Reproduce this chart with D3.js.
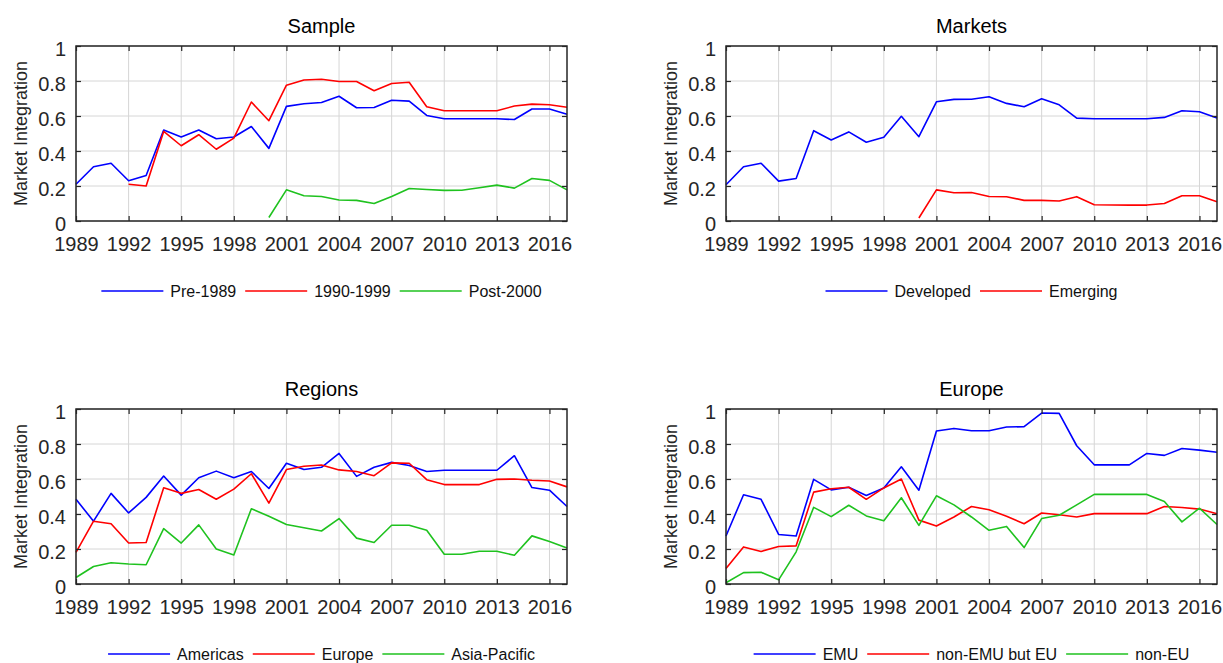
<!DOCTYPE html>
<html>
<head>
<meta charset="utf-8">
<script src="https://cdn.jsdelivr.net/npm/d3@7"></script>
<style>
  body { margin: 0; background: #fff; }
  svg { display: block; font-family: "Liberation Sans", Arial, sans-serif; }
</style>
</head>
<body>
<script>
// years on the x axis
const years = [1989, 1990, 1991, 1992, 1993, 1994, 1995, 1996, 1997, 1998,
               1999, 2000, 2001, 2002, 2003, 2004, 2005, 2006, 2007, 2008,
               2009, 2010, 2011, 2012, 2013, 2014, 2015, 2016, 2017];
const xTicks = [1989, 1992, 1995, 1998, 2001, 2004, 2007, 2010, 2013, 2016];
const yTicks = [0, 0.2, 0.4, 0.6, 0.8, 1];

// Sample
const pre1989 = [0.21, 0.31, 0.33, 0.23, 0.26, 0.52, 0.48, 0.52, 0.47, 0.48,
                 0.54, 0.415, 0.655, 0.67, 0.677, 0.713, 0.647, 0.649, 0.69, 0.685,
                 0.603, 0.584, 0.584, 0.584, 0.584, 0.58, 0.64, 0.64, 0.61];
const y1990to1999 = [null, null, null, 0.21, 0.20, 0.512, 0.43, 0.493, 0.41, 0.474,
                     0.68, 0.573, 0.776, 0.806, 0.81, 0.797, 0.797, 0.744, 0.786, 0.793,
                     0.653, 0.63, 0.63, 0.63, 0.63, 0.657, 0.668, 0.664, 0.65];
const post2000 = [null, null, null, null, null, null, null, null, null, null,
                  null, 0.02, 0.178, 0.144, 0.14, 0.12, 0.118, 0.10, 0.14, 0.186,
                  0.18, 0.175, 0.176, 0.19, 0.205, 0.188, 0.243, 0.232, 0.178];

// Markets
const developed = [0.207, 0.31, 0.33, 0.228, 0.243, 0.516, 0.463, 0.509, 0.45, 0.478,
                   0.598, 0.482, 0.681, 0.695, 0.696, 0.71, 0.672, 0.653, 0.698, 0.664,
                   0.588, 0.584, 0.584, 0.584, 0.584, 0.592, 0.63, 0.624, 0.588];
const emerging = [null, null, null, null, null, null, null, null, null, null,
                  null, 0.017, 0.178, 0.161, 0.163, 0.14, 0.139, 0.118, 0.118, 0.114,
                  0.139, 0.093, 0.091, 0.091, 0.091, 0.10, 0.144, 0.144, 0.11];

// Regions
const americas = [0.484, 0.359, 0.518, 0.406, 0.495, 0.617, 0.508, 0.607, 0.645, 0.607,
                  0.643, 0.546, 0.69, 0.654, 0.667, 0.746, 0.615, 0.667, 0.695, 0.677,
                  0.643, 0.65, 0.65, 0.65, 0.65, 0.733, 0.551, 0.536, 0.443];
const europe = [0.181, 0.359, 0.344, 0.234, 0.237, 0.55, 0.518, 0.54, 0.484, 0.542,
                0.63, 0.462, 0.654, 0.673, 0.68, 0.652, 0.643, 0.619, 0.692, 0.69,
                0.596, 0.568, 0.568, 0.568, 0.598, 0.60, 0.593, 0.589, 0.555];
const asiaPacific = [0.037, 0.10, 0.121, 0.114, 0.11, 0.316, 0.234, 0.338, 0.20, 0.166,
                     0.43, 0.387, 0.34, 0.321, 0.303, 0.374, 0.262, 0.237, 0.336, 0.336,
                     0.307, 0.17, 0.17, 0.187, 0.187, 0.164, 0.275, 0.243, 0.206];

// Europe
const emu = [0.274, 0.51, 0.484, 0.283, 0.274, 0.598, 0.538, 0.553, 0.506, 0.549,
             0.67, 0.536, 0.874, 0.889, 0.876, 0.876, 0.897, 0.899, 0.977, 0.975,
             0.79, 0.681, 0.681, 0.681, 0.746, 0.735, 0.774, 0.765, 0.753];
const nonEmuEu = [0.088, 0.212, 0.186, 0.214, 0.218, 0.525, 0.544, 0.553, 0.484, 0.549,
                  0.60, 0.365, 0.331, 0.383, 0.443, 0.424, 0.387, 0.344, 0.406, 0.396,
                  0.383, 0.402, 0.402, 0.402, 0.402, 0.443, 0.437, 0.428, 0.402];
const nonEu = [0.007, 0.065, 0.067, 0.024, 0.184, 0.438, 0.385, 0.45, 0.389, 0.361,
               0.493, 0.335, 0.504, 0.452, 0.383, 0.307, 0.329, 0.208, 0.374, 0.393,
               0.452, 0.512, 0.512, 0.512, 0.512, 0.471, 0.355, 0.433, 0.34];

const colors = ["#0000ff", "#ff0000", "#1fc21f"];

const panels = [
  { title: "Sample",  left: 76,  top: 46,  names: ["Pre-1989", "1990-1999", "Post-2000"], series: [pre1989, y1990to1999, post2000] },
  { title: "Markets", left: 726, top: 46,  names: ["Developed", "Emerging"], series: [developed, emerging] },
  { title: "Regions", left: 76,  top: 409, names: ["Americas", "Europe", "Asia-Pacific"], series: [americas, europe, asiaPacific] },
  { title: "Europe",  left: 726, top: 409, names: ["EMU", "non-EMU but EU", "non-EU"], series: [emu, nonEmuEu, nonEu] }
];

const W = 1223, H = 663;
const pw = 491, ph = 175;

const svg = d3.select("body").append("svg")
  .attr("width", W)
  .attr("height", H);

const x = d3.scaleLinear().domain([1989, 2017]).range([0, pw]);
const y = d3.scaleLinear().domain([0, 1]).range([ph, 0]);
const fmtY = d => d === 0 ? "0" : d === 1 ? "1" : d3.format(".1f")(d);

panels.forEach(p => {
  const g = svg.append("g").attr("transform", `translate(${p.left},${p.top})`);

  // grid
  g.append("g").selectAll("line.vx")
    .data(xTicks).enter().append("line")
    .attr("x1", d => x(d)).attr("x2", d => x(d))
    .attr("y1", 0).attr("y2", ph)
    .attr("stroke", "#d6d6d6").attr("stroke-width", 1);
  g.append("g").selectAll("line.hy")
    .data(yTicks).enter().append("line")
    .attr("x1", 0).attr("x2", pw)
    .attr("y1", d => y(d)).attr("y2", d => y(d))
    .attr("stroke", "#d6d6d6").attr("stroke-width", 1);

  // lines
  const line = d3.line()
    .defined(d => d[1] !== null)
    .x(d => x(d[0]))
    .y(d => y(d[1]));

  p.series.forEach((s, i) => {
    g.append("path")
      .datum(years.map((yr, j) => [yr, s[j]]))
      .attr("fill", "none")
      .attr("stroke", colors[i])
      .attr("stroke-width", 1.6)
      .attr("stroke-linejoin", "round")
      .attr("d", line);
  });

  // axes (ticks pointing inward)
  const styleAxis = sel => {
    sel.select(".domain").remove();
    sel.selectAll(".tick line").attr("stroke", "#262626").attr("stroke-width", 1.2);
    sel.selectAll(".tick text").attr("fill", "#262626").style("font-size", "20px");
  };

  g.append("g")
    .attr("transform", `translate(0,${ph})`)
    .call(d3.axisBottom(x).tickValues(xTicks).tickFormat(d3.format("d"))
      .tickSizeInner(-5).tickSizeOuter(0).tickPadding(16))
    .call(styleAxis);
  g.append("g")
    .call(d3.axisTop(x).tickValues(xTicks).tickFormat("")
      .tickSizeInner(-5).tickSizeOuter(0))
    .call(styleAxis);
  g.append("g")
    .call(d3.axisLeft(y).tickValues(yTicks).tickFormat(fmtY)
      .tickSizeInner(-5).tickSizeOuter(0).tickPadding(10))
    .call(styleAxis)
    .selectAll(".tick text").attr("dy", "0.45em");
  g.append("g")
    .attr("transform", `translate(${pw},0)`)
    .call(d3.axisRight(y).tickValues(yTicks).tickFormat("")
      .tickSizeInner(-5).tickSizeOuter(0))
    .call(styleAxis);

  // box
  g.append("rect")
    .attr("width", pw).attr("height", ph)
    .attr("fill", "none")
    .attr("stroke", "#262626")
    .attr("stroke-width", 1.5);

  // title
  g.append("text")
    .attr("x", pw / 2)
    .attr("y", -13)
    .attr("text-anchor", "middle")
    .style("font-size", "20px")
    .attr("fill", "#000")
    .text(p.title);

  // y label
  g.append("text")
    .attr("transform", `translate(-55,${ph / 2}) rotate(-90)`)
    .attr("text-anchor", "middle")
    .attr("dy", "0.35em")
    .style("font-size", "18px")
    .attr("fill", "#262626")
    .text("Market Integration");

  // legend
  const lg = g.append("g").attr("transform", `translate(0,${ph + 70})`);
  const lineLen = 62, gapText = 7, gapItem = 9;
  let cx = 0;
  p.names.forEach((name, i) => {
    lg.append("line")
      .attr("x1", cx).attr("x2", cx + lineLen)
      .attr("y1", 0).attr("y2", 0)
      .attr("stroke", colors[i]).attr("stroke-width", 1.6);
    const t = lg.append("text")
      .attr("x", cx + lineLen + gapText)
      .attr("y", 0)
      .attr("dy", "0.36em")
      .style("font-size", "16px")
      .attr("fill", "#111")
      .text(name);
    cx += lineLen + gapText + t.node().getComputedTextLength() + gapItem;
  });
  const total = cx - gapItem;
  lg.attr("transform", `translate(${(pw - total) / 2},${ph + 70})`);
});
</script>
</body>
</html>
